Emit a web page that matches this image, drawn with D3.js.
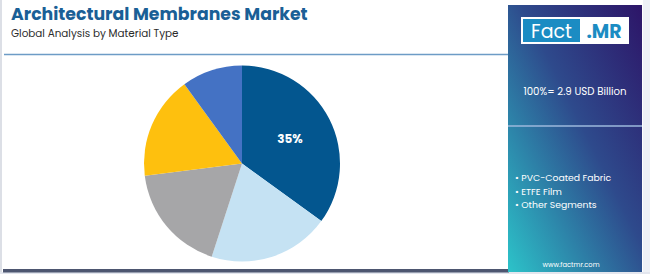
<!DOCTYPE html>
<html>
<head>
<meta charset="utf-8">
<script src="https://cdn.jsdelivr.net/npm/d3@7"></script>
<style>
  body { margin: 0; background: #ffffff; }
  svg { display: block; }
</style>
</head>
<body>
<div id="chart"></div>
<script>
// data, clockwise from 12 o'clock
var slices = ["PVC-Coated Fabric", "ETFE Film", "PTFE Fabric", "Silicone-Coated Glass", "Other Segments"];
var shares = [35, 20, 18, 17, 10];
var sliceColors = ["#03568f", "#c5e2f3", "#a6a6a8", "#fec00e", "#4472c4"];
var shownLabels = ["35%", "", "", "", ""];
var legendItems = ["PVC-Coated Fabric", "ETFE Film", "Other Segments"];
var totalText = "100%= 2.9 USD Billion";

var w = 650, h = 274;
var font = "Poppins, 'Open Sans', sans-serif";

var svg = d3.select("#chart").append("svg")
  .attr("width", w)
  .attr("height", h);

// page frame
svg.append("rect").attr("x", 0).attr("y", 0).attr("width", w).attr("height", h).attr("fill", "#ffffff");
svg.append("rect").attr("x", 0).attr("y", 0).attr("width", 2).attr("height", h).attr("fill", "#dcdfe6");
svg.append("rect").attr("x", 643).attr("y", 0).attr("width", 7).attr("height", h).attr("fill", "#eef1f6");
svg.append("rect").attr("x", 0).attr("y", 272).attr("width", w).attr("height", 2).attr("fill", "#e3e6ee");

// title block
svg.append("text")
  .text("Architectural Membranes Market")
  .attr("x", 11).attr("y", 20)
  .attr("font-family", font)
  .attr("font-size", 17.3)
  .attr("font-weight", "bold")
  .attr("fill", "#1a5f96");
svg.append("text")
  .text("Global Analysis by Material Type")
  .attr("x", 11).attr("y", 37)
  .attr("font-family", font)
  .attr("font-size", 10.4)
  .attr("fill", "#2b2b2b");

svg.append("line")
  .attr("x1", 4).attr("x2", 510)
  .attr("y1", 54.5).attr("y2", 54.5)
  .attr("stroke", "#6d9cc6")
  .attr("stroke-width", 1.5);

svg.append("rect")
  .attr("x", 3).attr("y", 269).attr("width", 506).attr("height", 3.5)
  .attr("fill", "#4d5670");

// pie
var cx = 242, cy = 163.5, r = 98;
var pie = d3.pie().sort(null).value(function(d) { return d; });
var arc = d3.arc().innerRadius(0).outerRadius(r);
var arcs = pie(shares);

var g = svg.append("g").attr("transform", "translate(" + cx + "," + cy + ")");
g.selectAll("path")
  .data(arcs)
  .enter()
  .append("path")
  .attr("d", arc)
  .attr("fill", function(d, i) { return sliceColors[i]; });

var labelArc = d3.arc().innerRadius(r * 0.55).outerRadius(r * 0.55);
g.selectAll("text.pct")
  .data(arcs)
  .enter()
  .append("text")
  .attr("class", "pct")
  .text(function(d, i) { return shownLabels[i]; })
  .attr("x", function(d) { return labelArc.centroid(d)[0]; })
  .attr("y", function(d) { return labelArc.centroid(d)[1]; })
  .attr("dy", "0.35em")
  .attr("text-anchor", "middle")
  .attr("font-family", font)
  .attr("font-size", 12)
  .attr("font-weight", "bold")
  .attr("fill", "#ffffff");

// right panel
var defs = svg.append("defs");
var grad = defs.append("linearGradient")
  .attr("id", "panelGrad")
  .attr("x1", "1").attr("y1", "0")
  .attr("x2", "0").attr("y2", "1");
grad.append("stop").attr("offset", "0").attr("stop-color", "#2d1568");
grad.append("stop").attr("offset", "0.45").attr("stop-color", "#2e4a8c");
grad.append("stop").attr("offset", "1").attr("stop-color", "#2cc3c9");

var px = 508, pw = 134;
svg.append("rect")
  .attr("x", px).attr("y", 5)
  .attr("width", pw).attr("height", 267)
  .attr("fill", "url(#panelGrad)");

svg.append("line")
  .attr("x1", px).attr("x2", px + pw)
  .attr("y1", 126).attr("y2", 126)
  .attr("stroke", "#9db9dd")
  .attr("stroke-width", 1.5);

// logo
var lx = 521, ly = 17, lw = 108, lh = 27;
svg.append("rect").attr("x", lx).attr("y", ly).attr("width", lw).attr("height", lh).attr("fill", "#ffffff");
svg.append("rect").attr("x", lx + 2).attr("y", ly + 2).attr("width", 57).attr("height", lh - 4).attr("fill", "#1b8cc3");
svg.append("text")
  .text("Fact")
  .attr("x", lx + 30.5).attr("y", ly + 20.5)
  .attr("text-anchor", "middle")
  .attr("font-family", font)
  .attr("font-size", 19)
  .attr("fill", "#ffffff");
svg.append("text")
  .text(".MR")
  .attr("x", lx + 83).attr("y", ly + 20.5)
  .attr("text-anchor", "middle")
  .attr("font-family", font)
  .attr("font-size", 19)
  .attr("font-weight", "bold")
  .attr("fill", "#1b8cc3");

svg.append("text")
  .text(totalText)
  .attr("x", px + pw / 2).attr("y", 95)
  .attr("text-anchor", "middle")
  .attr("font-family", font)
  .attr("font-size", 10.2)
  .attr("fill", "#ffffff");

svg.selectAll("text.legend")
  .data(legendItems)
  .enter()
  .append("text")
  .attr("class", "legend")
  .text(function(d) { return "\u2022 " + d; })
  .attr("x", 515)
  .attr("y", function(d, i) { return 181 + i * 13.5; })
  .attr("font-family", font)
  .attr("font-size", 9.3)
  .attr("fill", "#ffffff");

svg.append("text")
  .text("www.factmr.com")
  .attr("x", 571).attr("y", 267)
  .attr("text-anchor", "middle")
  .attr("font-family", font)
  .attr("font-size", 6.7)
  .attr("fill", "#ffffff");
</script>
</body>
</html>
